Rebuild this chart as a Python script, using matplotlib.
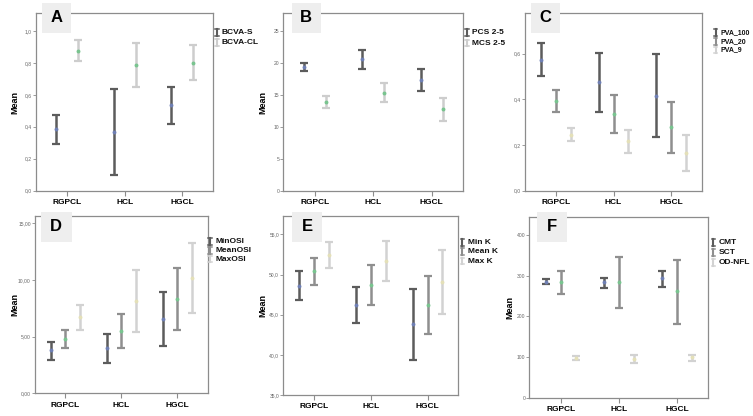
import numpy as np
import matplotlib
matplotlib.use("Agg")
import matplotlib.pyplot as plt
from matplotlib.patches import Rectangle
from matplotlib.lines import Line2D

plt.rcParams['font.family'] = ['Liberation Sans', 'DejaVu Sans']

W, H = 753, 416
categories = ["RGPCL", "HCL", "HGCL"]

# ---- Panel A ----
a_series = ["BCVA-S", "BCVA-CL"]
a_mean = [[0.386, 0.370, 0.534], [0.877, 0.785, 0.800]]
a_low = [[0.292, 0.100, 0.420], [0.814, 0.647, 0.693]]
a_high = [[0.474, 0.639, 0.649], [0.942, 0.925, 0.910]]
a_ticks = [0.0, 0.2, 0.4, 0.6, 0.8, 1.0]
a_ticklabels = ["0,0", "0,2", "0,4", "0,6", "0,8", "1,0"]

# ---- Panel B ----
b_series = ["PCS 2-5", "MCS 2-5"]
b_mean = [[19.4, 20.7, 17.3], [13.9, 15.3, 12.8]]
b_low = [[18.7, 19.05, 15.65], [12.9, 13.9, 11.0]]
b_high = [[20.0, 22.0, 19.0], [14.8, 16.8, 14.5]]
b_ticks = [0, 5, 10, 15, 20, 25]
b_ticklabels = ["0", "5", "10", "15", "20", "25"]

# ---- Panel C ----
c_series = ["PVA_100", "PVA_20", "PVA_9"]
c_mean = [[0.572, 0.474, 0.416], [0.391, 0.336, 0.277], [0.245, 0.216, 0.165]]
c_low = [[0.502, 0.345, 0.235], [0.343, 0.251, 0.165], [0.219, 0.166, 0.085]]
c_high = [[0.645, 0.604, 0.598], [0.441, 0.420, 0.388], [0.273, 0.266, 0.244]]
c_ticks = [0.0, 0.2, 0.4, 0.6]
c_ticklabels = ["0,0", "0,2", "0,4", "0,6"]

# ---- Panel D ----
d_series = ["MinOSI", "MeanOSI", "MaxOSI"]
d_mean = [[3.79, 3.97, 6.53], [4.82, 5.53, 8.32], [6.70, 8.15, 10.15]]
d_low = [[2.97, 2.70, 4.15], [4.03, 4.03, 5.62], [5.56, 5.44, 7.12]]
d_high = [[4.50, 5.20, 8.90], [5.62, 7.03, 11.06], [7.76, 10.85, 13.24]]
d_ticks = [0, 5, 10, 15]
d_ticklabels = ["0,00", "5,00", "10,00", "15,00"]

# ---- Panel E ----
e_series = ["Min K", "Mean K", "Max K"]
e_mean = [[48.6, 46.2, 43.8], [50.4, 48.7, 46.2], [52.4, 51.7, 49.1]]
e_low = [[46.8, 44.0, 39.4], [48.7, 46.2, 42.6], [50.8, 49.2, 45.1]]
e_high = [[50.5, 48.4, 48.2], [52.1, 51.2, 49.8], [54.1, 54.2, 53.1]]
e_ticks = [35, 40, 45, 50, 55]
e_ticklabels = ["35,0", "40,0", "45,0", "50,0", "55,0"]

# ---- Panel F ----
f_series = ["CMT", "SCT", "OD-NFL"]
f_mean = [[284, 283, 293], [284, 284, 261], [98, 95, 99]]
f_low = [[278, 270, 273], [255, 221, 181], [93, 84, 91]]
f_high = [[292, 295, 311], [312, 345, 339], [103, 106, 106]]
f_ticks = [0, 100, 200, 300, 400]
f_ticklabels = ["0", "100", "200", "300", "400"]

panels = [
    dict(letter="A", series=a_series, mean=a_mean, low=a_low, high=a_high,
         ticks=a_ticks, labels=a_ticklabels, ylim=(0, 1.11),
         box=(36, 213.3, 13.3, 190.7), lbox=(42, 71, 3, 33),
         leg=(216.7, 32.3, 10.4), legfs=6, ylabel=15),
    dict(letter="B", series=b_series, mean=b_mean, low=b_low, high=b_high,
         ticks=b_ticks, labels=b_ticklabels, ylim=(0, 27.8),
         box=(283.3, 463.3, 13.3, 190.7), lbox=(291.7, 321, 3, 33),
         leg=(466.7, 32.3, 10.8), legfs=6, ylabel=262.7),
    dict(letter="C", series=c_series, mean=c_mean, low=c_low, high=c_high,
         ticks=c_ticks, labels=c_ticklabels, ylim=(0, 0.777),
         box=(525, 702, 13.3, 190.7), lbox=(530.7, 560, 3, 33),
         leg=(715.5, 32.3, 8.9), legfs=5.0, ylabel=None),
    dict(letter="D", series=d_series, mean=d_mean, low=d_low, high=d_high,
         ticks=d_ticks, labels=d_ticklabels, ylim=(0, 15.65),
         box=(35, 207.7, 216, 393.3), lbox=(40.7, 71.7, 212, 242),
         leg=(210, 241.7, 8.7), legfs=6, ylabel=15),
    dict(letter="E", series=e_series, mean=e_mean, low=e_low, high=e_high,
         ticks=e_ticks, labels=e_ticklabels, ylim=(35, 57.3),
         box=(283.3, 458.3, 216, 395), lbox=(292.3, 321.7, 212, 242),
         leg=(462.3, 242.3, 9.4), legfs=6, ylabel=262.7),
    dict(letter="F", series=f_series, mean=f_mean, low=f_low, high=f_high,
         ticks=f_ticks, labels=f_ticklabels, ylim=(0, 443),
         box=(529.3, 708.3, 217.3, 397.7), lbox=(536.7, 566.7, 212, 242),
         leg=(713.3, 242.7, 9.8), legfs=6, ylabel=510),
]

bar_colors2 = ["#5c5c5c", "#cdcdcd"]
bar_colors3 = ["#5c5c5c", "#8f8f8f", "#d2d2d2"]
dot_colors = ["#6f7fb3", "#79c48f", "#e4e0b8"]
spine_col = "#8c8c8c"

fig = plt.figure(figsize=(W / 100, H / 100), dpi=100)
fig.patch.set_facecolor("white")


def fx(px):
    return px / W


def fy(py):
    return 1 - py / H


for p in panels:
    x0, x1, yt, yb = p["box"]
    ax = fig.add_axes([fx(x0), fy(yb), fx(x1 - x0), (yb - yt) / H])
    n = len(p["series"])
    offsets = [-0.19, 0.19] if n == 2 else [-0.26, 0.0, 0.26]
    colors = bar_colors2 if n == 2 else bar_colors3
    xc = np.arange(len(categories))
    for i in range(n):
        m = np.array(p["mean"][i], dtype=float)
        lo = np.array(p["low"][i], dtype=float)
        hi = np.array(p["high"][i], dtype=float)
        xs = xc + offsets[i]
        ax.errorbar(xs, m, yerr=[m - lo, hi - m], fmt="none", ecolor=colors[i],
                    elinewidth=1.8, capsize=2.6, capthick=1.6, zorder=2)
        ax.plot(xs, m, "o", ms=2.8, color=dot_colors[i], mec="none", zorder=3)
    ax.set_xlim(-0.54, 2.54)
    ax.set_ylim(*p["ylim"])
    ax.set_xticks(xc)
    ax.set_xticklabels(categories, fontsize=6, fontweight="bold")
    ax.set_yticks(p["ticks"])
    ax.set_yticklabels(p["labels"], fontsize=3.6, color="#666666")
    ax.tick_params(axis="x", length=3.5, width=0.8, color=spine_col, pad=2.5)
    ax.tick_params(axis="y", length=2, width=0.6, color=spine_col, pad=1)
    for s in ax.spines.values():
        s.set_color(spine_col)
        s.set_linewidth(0.9)
    ax.set_facecolor("white")

    if p["ylabel"] is not None:
        fig.text(fx(p["ylabel"]), fy((yt + yb) / 2), "Mean", rotation=90,
                 ha="center", va="center", fontsize=6.5, fontweight="bold")

    # letter box
    lx0, lx1, ly0, ly1 = p["lbox"]
    fig.add_artist(Rectangle((fx(lx0), fy(ly1)), fx(lx1 - lx0), (ly1 - ly0) / H,
                             transform=fig.transFigure, facecolor="#eeeeee",
                             edgecolor="none", zorder=5))
    fig.text(fx((lx0 + lx1) / 2), fy((ly0 + ly1) / 2), p["letter"],
             ha="center", va="center", fontsize=12, fontweight="bold", zorder=6)

    # legend entries
    sx, sy, step = p["leg"]
    for i, name in enumerate(p["series"]):
        cy = sy + i * step
        c = colors[i]
        fig.add_artist(Line2D([fx(sx), fx(sx)], [fy(cy - 3.3), fy(cy + 3.3)],
                              transform=fig.transFigure, color=c, lw=1.5))
        for yy in (cy - 3.3, cy + 3.3):
            fig.add_artist(Line2D([fx(sx - 1.8), fx(sx + 1.8)], [fy(yy), fy(yy)],
                                  transform=fig.transFigure, color=c, lw=1.1))
        fig.text(fx(sx + 5.2), fy(cy), name, ha="left", va="center",
                 fontsize=p["legfs"], fontweight="bold", color="#111111")

fig.savefig("out.png", dpi=100, facecolor="white")
